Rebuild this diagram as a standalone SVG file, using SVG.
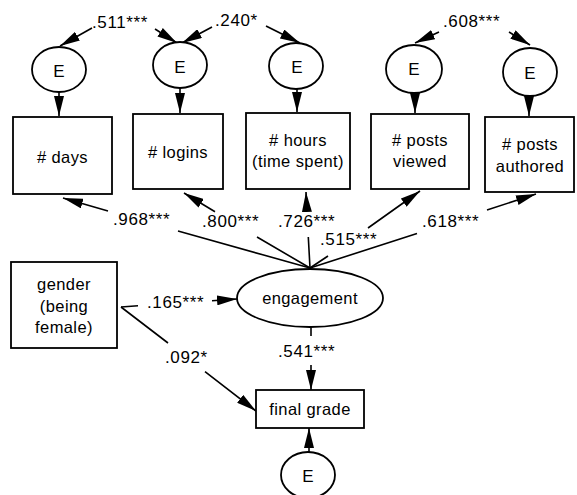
<svg xmlns="http://www.w3.org/2000/svg" width="577" height="495" viewBox="0 0 577 495">
<style>
  .box { fill: #fff; stroke: #000; stroke-width: 1.8; }
  .ell { fill: #fff; stroke: #000; stroke-width: 1.8; }
  .t { font-family: "Liberation Sans", Arial, sans-serif; font-size: 16.5px; fill: #000; text-anchor: middle; letter-spacing: 0.4px; }
  .e { font-size: 17px; letter-spacing: 0; }
  .lbl { font-family: "Liberation Sans", Arial, sans-serif; font-size: 17px; fill: #000; letter-spacing: 0.6px; }
  .c { fill: none; stroke: #000; stroke-width: 1.6; marker-end: url(#ah); }
</style>
<defs>
  <marker id="ah" viewBox="0 0 20 10" refX="20" refY="5" markerWidth="20" markerHeight="10" markerUnits="userSpaceOnUse" orient="auto">
    <path d="M0,0 L20,5 L0,10 z" fill="#000"/>
  </marker>
</defs>
<rect width="577" height="495" fill="#fff"/>

<g id="connectors">
  <path class="c" d="M59,92 L59,116"/>
  <path class="c" d="M180,88 L180,113"/>
  <path class="c" d="M297,89 L297,112"/>
  <path class="c" d="M415,93 L415,113"/>
  <path class="c" d="M529,96 L529,116"/>
  <path class="c" d="M92,28 L60,46"/>
  <path class="c" d="M155,29 L177,43"/>
  <path class="c" d="M212,27 L182,43"/>
  <path class="c" d="M266,26 L300,43"/>
  <path class="c" d="M439,32 L415,43"/>
  <path class="c" d="M509,32 L530,45"/>
  <path class="c" d="M310,268 L178,231 M108,211 L63,198"/>
  <path class="c" d="M310,268 L257,237 M215,211.7 L184,193"/>
  <path class="c" d="M310,268 L308.3,237 M306.7,207 L306,192"/>
  <path class="c" d="M310,268 L328,256 M368,228 L420,191"/>
  <path class="c" d="M310,268 L417,233.5 M487,210 L536,194"/>
  <path class="c" d="M121,307 L138,305.8 M212,300.7 L237,299"/>
  <path class="c" d="M121,307 L168,343 M205,371.7 L256,411"/>
  <path class="c" d="M311,327 L311,336 M311,365 L311,390"/>
  <path class="c" d="M309,452 L309,428"/>
</g>

<g id="labels">
  <text class="lbl" x="92" y="28">.511***</text>
  <text class="lbl" x="215" y="26">.240*</text>
  <text class="lbl" x="443" y="27">.608***</text>
  <text class="lbl" x="113" y="225">.968***</text>
  <text class="lbl" x="202" y="227">.800***</text>
  <text class="lbl" x="278" y="227">.726***</text>
  <text class="lbl" x="320" y="245">.515***</text>
  <text class="lbl" x="422" y="227">.618***</text>
  <text class="lbl" x="147" y="308">.165***</text>
  <text class="lbl" x="165" y="363">.092*</text>
  <text class="lbl" x="278" y="357">.541***</text>
</g>

<g id="e1"><ellipse class="ell" cx="59" cy="69.5" rx="27" ry="22.5"/><text class="t e" x="59" y="77">E</text></g>
<g id="e2"><ellipse class="ell" cx="180" cy="65" rx="27" ry="23"/><text class="t e" x="180" y="73">E</text></g>
<g id="e3"><ellipse class="ell" cx="296" cy="66" rx="27" ry="23"/><text class="t e" x="297" y="73">E</text></g>
<g id="e4"><ellipse class="ell" cx="414" cy="69" rx="28" ry="24"/><text class="t e" x="414" y="75">E</text></g>
<g id="e5"><ellipse class="ell" cx="530" cy="72" rx="27" ry="24"/><text class="t e" x="530" y="79">E</text></g>

<g id="days"><rect class="box" x="13" y="117" width="99" height="77"/><text class="t" x="62.5" y="163"># days</text></g>
<g id="logins"><rect class="box" x="133" y="114" width="90" height="75"/><text class="t" x="178" y="158"># logins</text></g>
<g id="hours"><rect class="box" x="246" y="113" width="104" height="76"/><text class="t" x="298" y="146"># hours</text><text class="t" x="298" y="167">(time spent)</text></g>
<g id="viewed"><rect class="box" x="371" y="114" width="98" height="75"/><text class="t" x="420" y="146"># posts</text><text class="t" x="420" y="167">viewed</text></g>
<g id="authored"><rect class="box" x="485" y="117" width="89" height="75"/><text class="t" x="530" y="150"># posts</text><text class="t" x="530" y="172">authored</text></g>

<g id="engagement"><ellipse class="ell" cx="310" cy="298" rx="73" ry="29"/><text class="t" x="310" y="304">engagement</text></g>
<g id="gender"><rect class="box" x="11" y="262" width="106" height="86"/><text class="t" x="64" y="290">gender</text><text class="t" x="64" y="312">(being</text><text class="t" x="64" y="333">female)</text></g>
<g id="finalgrade"><rect class="box" x="256" y="390" width="108" height="38"/><text class="t" x="310" y="415">final grade</text></g>
<g id="e6"><ellipse class="ell" cx="308" cy="475" rx="27" ry="23"/><text class="t e" x="308" y="482">E</text></g>
</svg>
